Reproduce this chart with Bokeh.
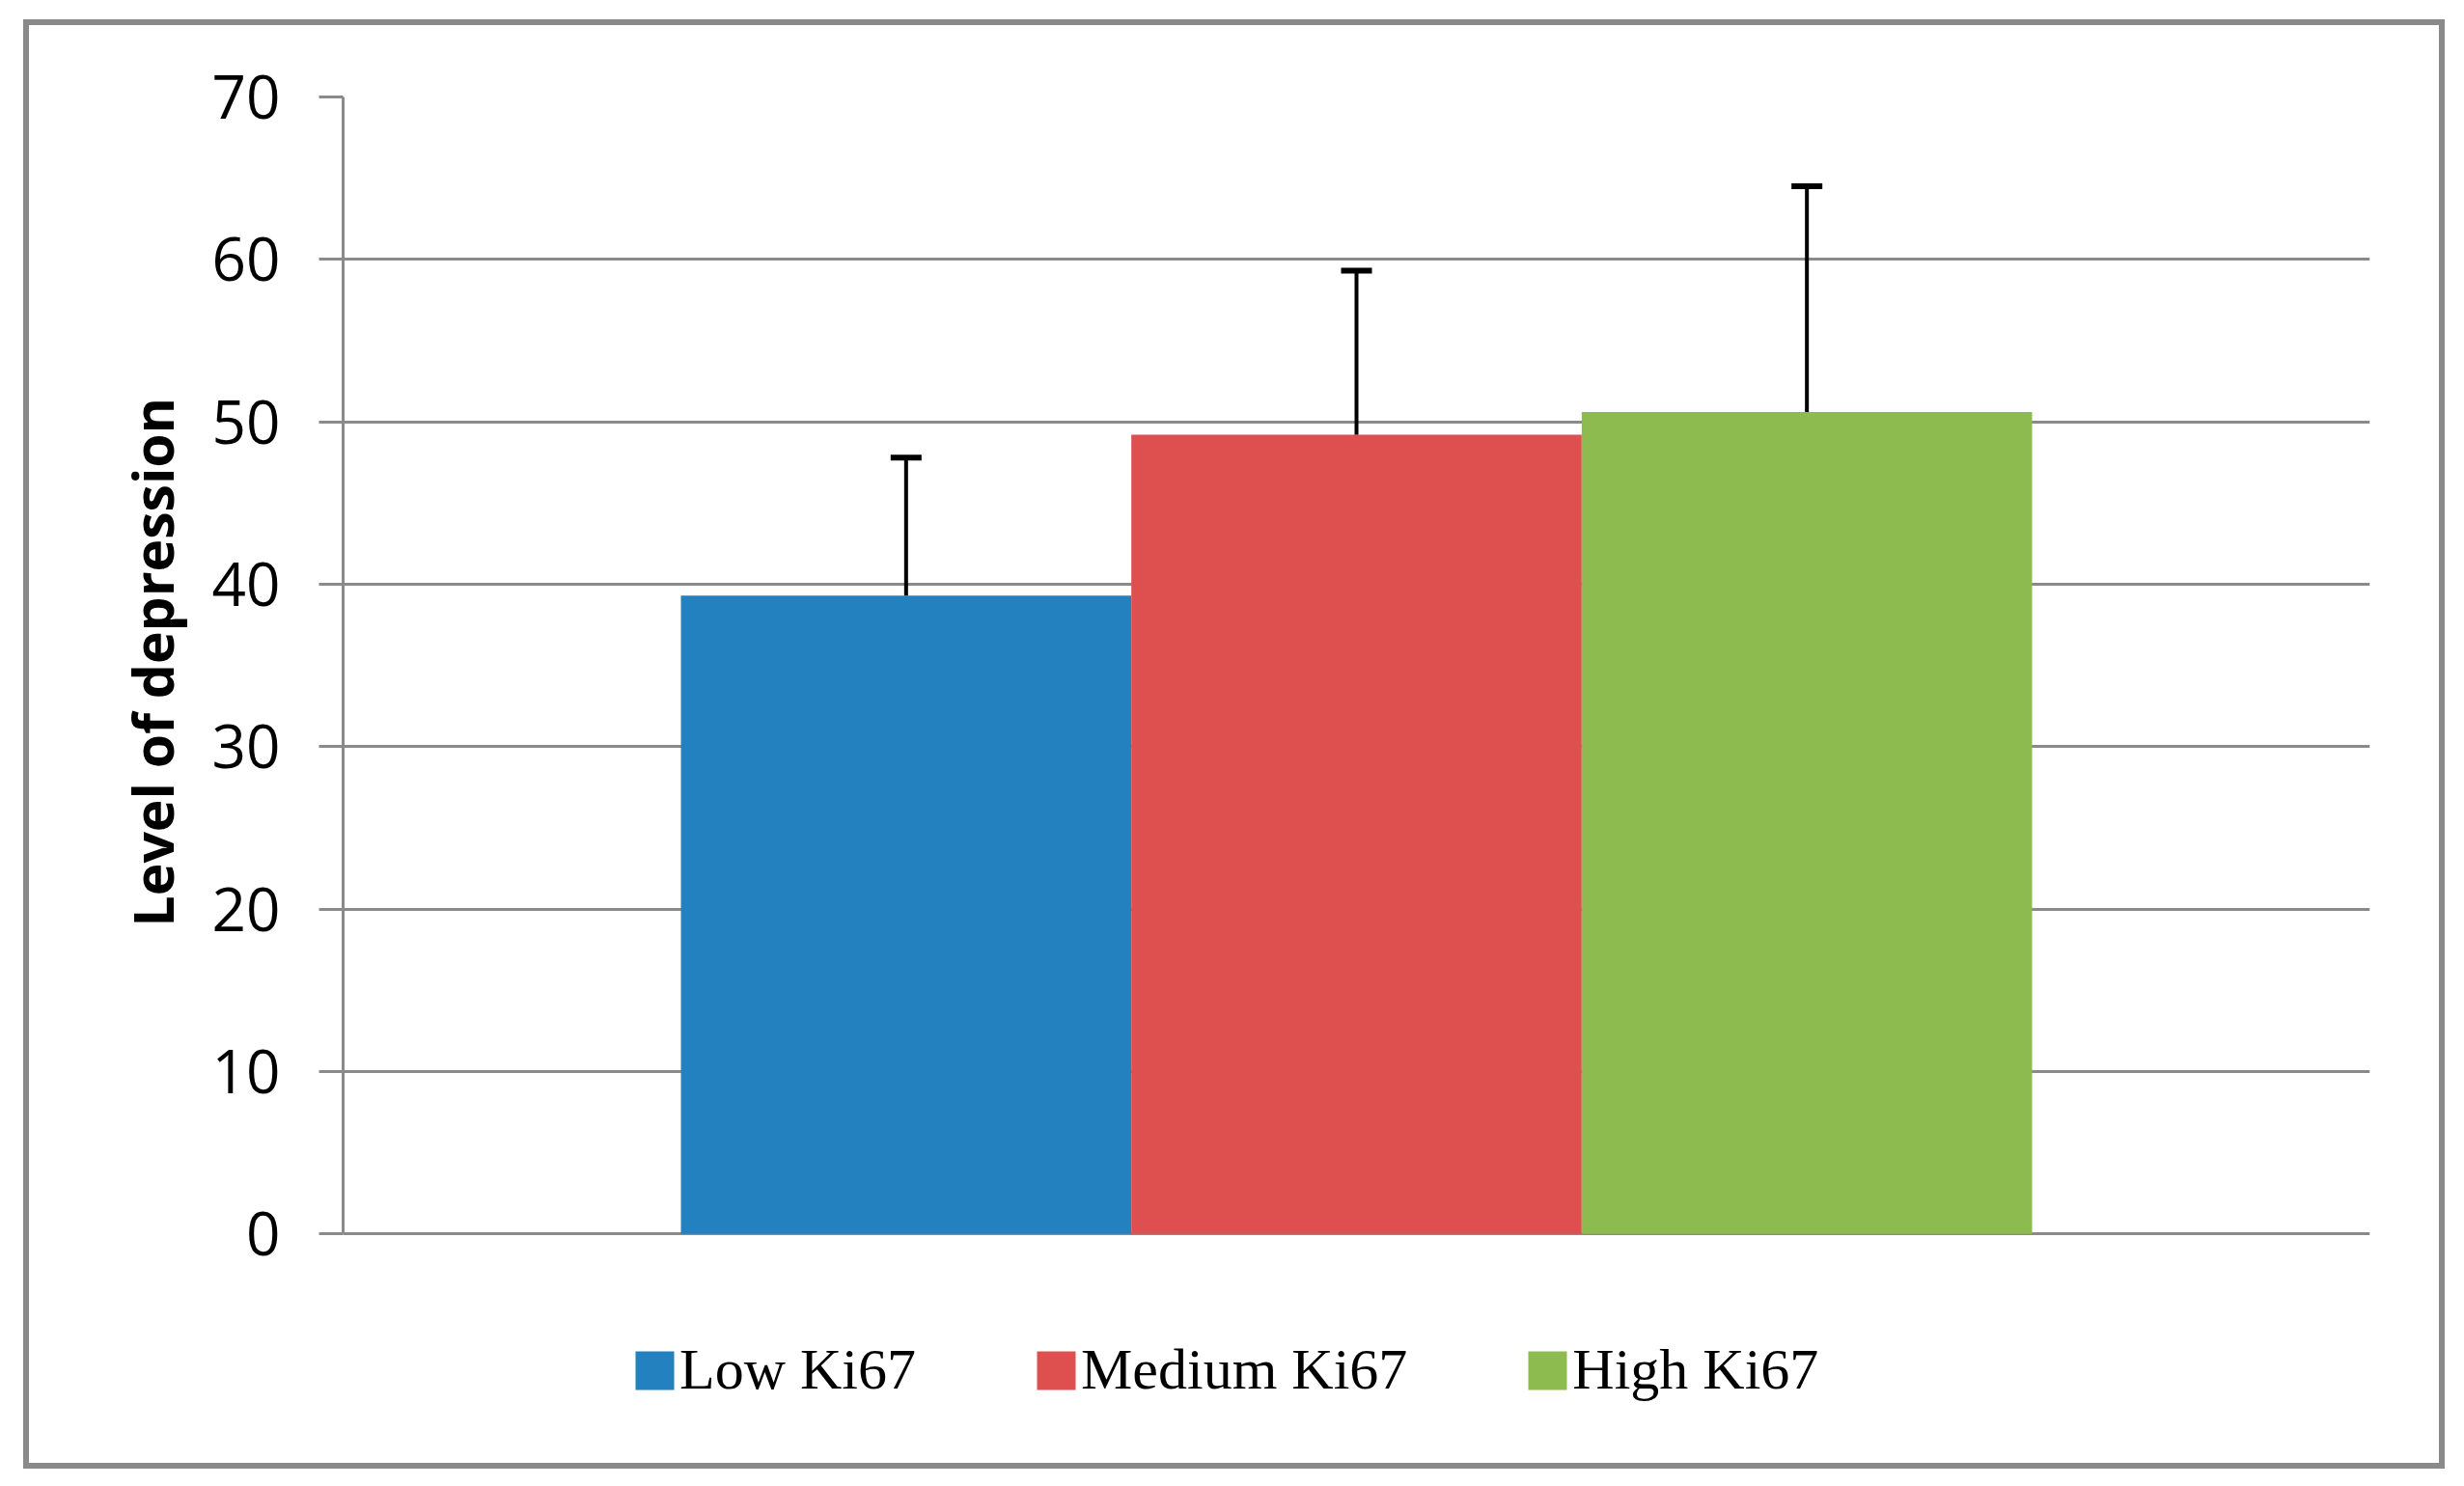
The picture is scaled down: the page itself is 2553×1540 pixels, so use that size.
from bokeh.plotting import figure
from bokeh.models import (FactorRange, Range1d, FixedTicker, ColumnDataSource,
                          Whisker, TeeHead, Legend, LegendItem, Title)
from bokeh.embed import file_html
from bokeh.resources import INLINE

# ---- data ----
categories = ["Low Ki67", "Medium Ki67", "High Ki67"]
means = [39.3, 49.2, 50.6]
errors = [8.5, 10.1, 13.9]
y_ticks = [0, 10, 20, 30, 40, 50, 60, 70]
y_label = "Level of depression"

palette = ["#2481bf", "#dd504f", "#8ebb50"]
GRAY = "#8a8a8a"

upper = [m + e for m, e in zip(means, errors)]
src = ColumnDataSource(dict(x=categories, top=means, upper=upper, color=palette))

# frame extends below 0 to hold the legend; axis & grid are bounded to 0..70
p = figure(width=2497, height=1490,
           x_range=FactorRange(factors=categories, range_padding=0.5),
           y_range=Range1d(-13, 70),
           output_backend="svg", toolbar_location=None,
           min_border_left=325, min_border_right=72,
           min_border_top=74, min_border_bottom=19)
p.margin = (26, 0, 0, 30)
p.styles = {"outline": "6px solid #8a8a8a"}
p.outline_line_color = None
p.background_fill_color = "white"
p.border_fill_color = "white"

bars = p.vbar(x="x", top="top", width=1.0, bottom=0, source=src,
              fill_color="color", line_color=None)

wh = Whisker(source=src, base="x", upper="upper", lower="top",
             dimension="height", line_color="black", line_width=4,
             lower_head=None,
             upper_head=TeeHead(size=32, line_width=6, line_color="black"),
             level="overlay")
p.add_layout(wh)

p.xaxis.visible = False
p.xgrid.visible = False

yax = p.yaxis[0]
yax.ticker = FixedTicker(ticks=y_ticks)
yax.bounds = (0, 70)
yax.axis_line_color = GRAY
yax.axis_line_width = 3
yax.major_tick_line_color = GRAY
yax.major_tick_line_width = 3
yax.major_tick_out = 25
yax.major_tick_in = 0
yax.minor_tick_line_color = None
yax.major_label_text_font = "Open Sans"
yax.major_label_text_font_size = "62px"
yax.major_label_text_color = "black"
yax.major_label_standoff = 40

p.ygrid.ticker = FixedTicker(ticks=y_ticks)
p.ygrid.grid_line_color = GRAY
p.ygrid.grid_line_width = 3

ytitle = Title(text=y_label, align="left", offset=537, vertical_align="bottom",
               text_font="Open Sans", text_font_style="bold",
               text_font_size="57px", text_color="black", standoff=40)
p.add_layout(ytitle, "left")

items = [LegendItem(label=c, renderers=[bars], index=i) for i, c in enumerate(categories)]
legend = Legend(items=items, orientation="horizontal", location=(298, 43),
                glyph_width=50, glyph_height=50, label_standoff=1, spacing=120,
                padding=0, margin=0, border_line_color=None,
                background_fill_alpha=0,
                label_text_font="Liberation Serif", label_text_font_size="60px",
                label_text_color="black")
p.add_layout(legend, "center")

open("out.html", "w").write(file_html(p, INLINE))
